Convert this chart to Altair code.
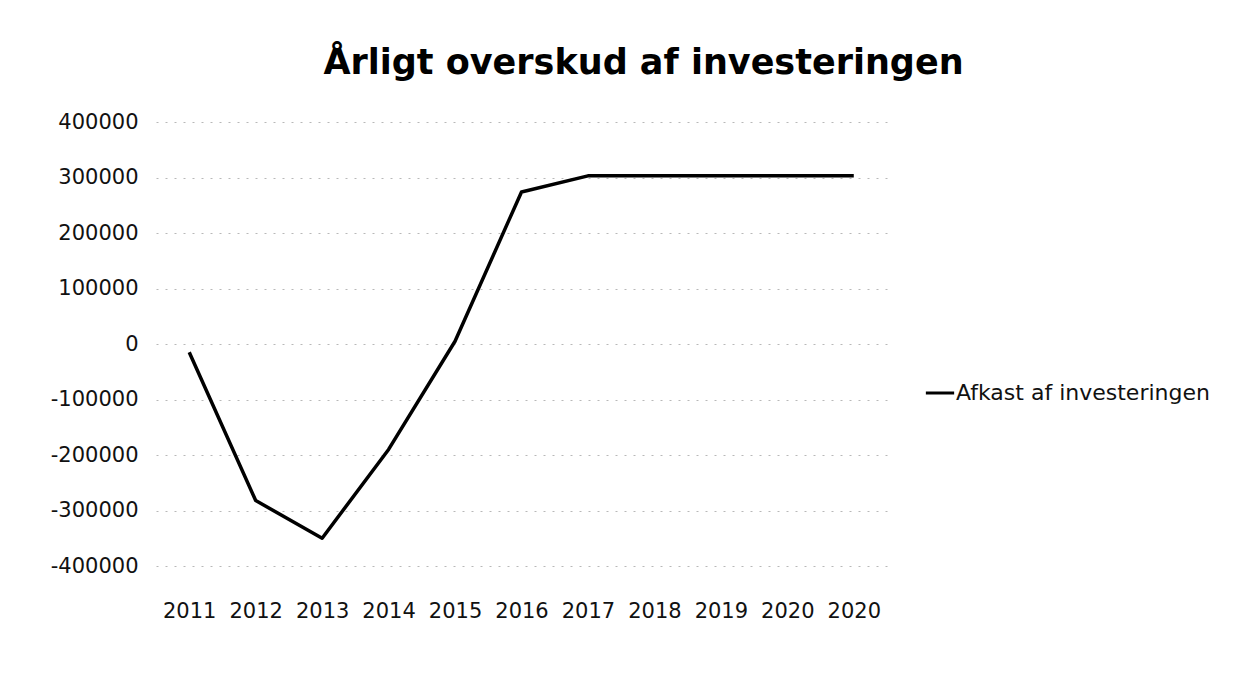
import json
import altair as alt
import pandas as pd

# Data
years = ["2011", "2012", "2013", "2014", "2015", "2016", "2017", "2018", "2019", "2020", "2020"]
values = [-15000, -282000, -350000, -190000, 5000, 274000, 303000, 303000, 303000, 303000, 303000]
series_name = "Afkast af investeringen"
title_text = "Årligt overskud af investeringen"
y_ticks = [-400000, -300000, -200000, -100000, 0, 100000, 200000, 300000, 400000]

df = pd.DataFrame({
    "idx": list(range(len(years))),
    "year": years,
    "value": values,
    "series": [series_name] * len(years),
})

label_expr = json.dumps(years) + "[datum.value]"
y_label_expr = "datum.value < 0 ? '-' + format(-datum.value, 'd') : format(datum.value, 'd')"

FONT = "DejaVu Sans"

line = alt.Chart(df).mark_line(strokeWidth=3.5, strokeJoin="round").encode(
    x=alt.X(
        "idx:O",
        title=None,
        scale=alt.Scale(type="point", padding=0.5),
        axis=alt.Axis(
            labelExpr=label_expr,
            labelAngle=0,
            domain=False,
            ticks=False,
            grid=False,
            labelPadding=34,
            labelFontSize=21,
            labelFont=FONT,
            labelColor="#111111",
        ),
    ),
    y=alt.Y(
        "value:Q",
        title=None,
        scale=alt.Scale(domain=[-400000, 400000], nice=False),
        axis=alt.Axis(
            values=y_ticks,
            labelExpr=y_label_expr,
            domain=False,
            ticks=False,
            grid=True,
            gridColor="#b8b8b8",
            gridDash=[2, 7],
            gridWidth=1,
            labelPadding=18,
            labelFontSize=21,
            labelFont=FONT,
            labelColor="#111111",
        ),
    ),
    color=alt.Color(
        "series:N",
        scale=alt.Scale(range=["#000000"]),
        legend=alt.Legend(
            title=None,
            orient="none",
            legendX=768,
            legendY=255,
            symbolType="stroke",
            symbolSize=800,
            symbolStrokeWidth=3,
            labelFont=FONT,
            labelFontSize=22,
            labelLimit=400,
            labelColor="#111111",
            labelOffset=0,
        ),
    ),
)

chart = line.properties(
    width=731,
    height=444,
    autosize=alt.AutoSizeParams(type="none"),
    padding={"left": 148, "top": 114, "right": 340, "bottom": 95},
    title=alt.TitleParams(
        text=title_text,
        font=FONT,
        fontSize=35,
        fontWeight="bold",
        color="#000000",
        anchor="middle",
        frame="group",
        dx=122,
        offset=30,
    ),
).configure_view(stroke=None)

chart.save("out.html", embed_options={"renderer": "svg", "actions": False})
